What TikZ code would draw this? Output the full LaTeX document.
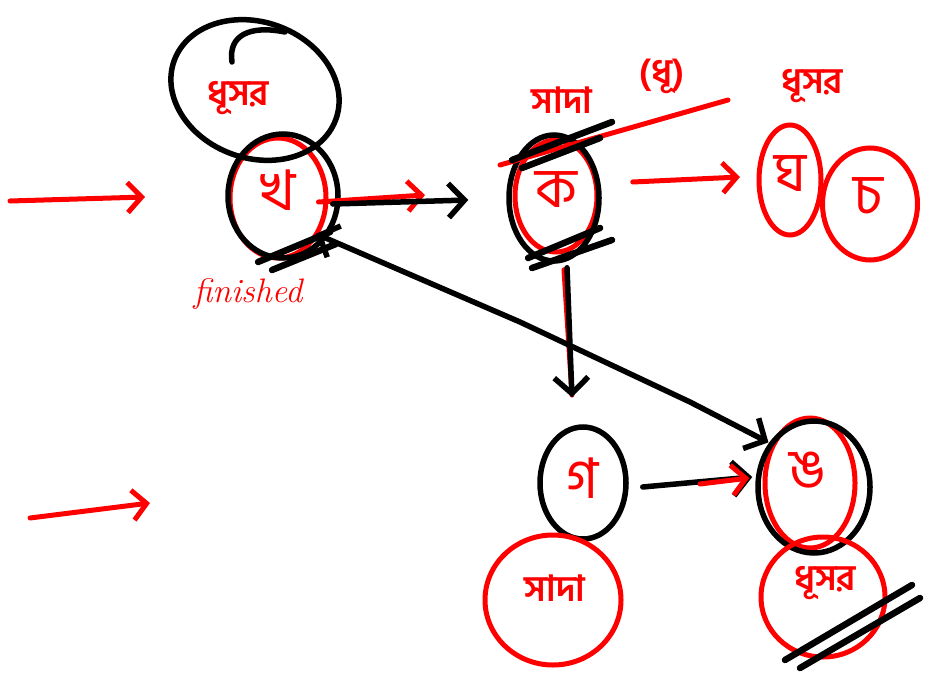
\documentclass[tikz,border=0pt]{standalone}
\usepackage{fontspec}
\newfontfamily\bn[Script=Bengali]{Hind Siliguri}
\usetikzlibrary{shapes.geometric,arrows.meta}
\begin{document}
\begin{tikzpicture}[x=1pt,y=-1pt,
  redc/.style={draw=red, line width=5pt, ellipse, inner sep=0pt},
  blkc/.style={draw=black, line width=5.5pt, ellipse, inner sep=0pt},
  rarr/.style={draw=red, line width=5pt, line cap=round, -{Straight Barb[length=14pt,width=30pt,line width=5pt]}},
  barr/.style={draw=black, line width=5.5pt, line cap=round, -{Straight Barb[length=16pt,width=34pt,line width=5.5pt]}},
  lbl/.style={text=red, font=\bn\bfseries\fontsize{36}{36}\selectfont},
  letter/.style={text=red, font=\bn\fontsize{56}{56}\selectfont},
  strike/.style={draw=black, line width=6.5pt, line cap=round},
  redline/.style={draw=red, line width=5pt, line cap=round},
]
\useasboundingbox (0,0) rectangle (936,677);

% incoming arrows
\coordinate (in1s) at (10,201);
\coordinate (in1e) at (145,197);
\coordinate (in2s) at (30,518);
\coordinate (in2e) at (150,503);
\draw[rarr] (in1s) -- (in1e);
\draw[rarr] (in2s) -- (in2e);

% node kha
\node[redc, minimum width=96pt, minimum height=120pt] (khr) at (278,198) {};
\node[letter] (kh) at (278,190) {খ};
\node[blkc, minimum width=110pt, minimum height=124pt] (khb) at (283,196) {};
\node[blkc, minimum width=172pt, minimum height=136pt, rotate=-20] (khlc) at (255,90) {};
\node[lbl] (khl) at (238,98) {ধূসর};
\draw[draw=black, line width=5.5pt, line cap=round] (232,62) .. controls (228,35) and (250,25) .. (285,32);
\node[text=red, font=\fontsize{34}{34}\selectfont\itshape] (khf) at (248,294) {finished};
\draw[strike] (258,262) -- (330,232);
\draw[strike] (272,270) -- (336,244);

% node ka
\node[redc, minimum width=82pt, minimum height=112pt] (kar) at (556,196) {};
\node[letter] (ka) at (556,190) {ক};
\node[blkc, minimum width=90pt, minimum height=126pt] (kab) at (554,198) {};
\node[lbl] (kal) at (562,100) {সাদা};
\node[lbl] (kal2) at (662,76) {(ধূ)};
\draw[redline] (500,165) -- (728,100);
\draw[strike] (512,160) -- (612,122);
\draw[strike] (522,168) -- (600,138);
\draw[strike] (528,258) -- (600,228);
\draw[strike] (532,268) -- (612,240);

% node gha + cha
\node[redc, minimum width=62pt, minimum height=110pt] (ghr) at (790,180) {};
\node[letter] (gh) at (790,174) {ঘ};
\node[redc, minimum width=95pt, minimum height=112pt] (char) at (870,204) {};
\node[letter] (ch) at (868,196) {চ};
\node[lbl] (ghl) at (812,86) {ধূসর};

% node ga
\node[blkc, minimum width=86pt, minimum height=112pt] (gab) at (583,483) {};
\node[letter] (ga) at (583,478) {গ};
\node[redc, minimum width=136pt, minimum height=130pt] (gal) at (553,600) {};
\node[lbl] (galt) at (555,588) {সাদা};

% node nga
\node[redc, minimum width=90pt, minimum height=130pt] (ngr) at (810,483) {};
\node[letter] (ng) at (808,470) {ঙ};
\node[blkc, minimum width=112pt, minimum height=132pt] (ngb) at (814,487) {};
\node[redc, minimum width=124pt, minimum height=120pt] (ngl) at (823,597) {};
\node[lbl] (nglt) at (825,583) {ধূসর};
\draw[strike] (785,660) -- (912,585);
\draw[strike] (800,668) -- (920,598);

% connectors
\coordinate (khka) at (425,195);
\draw[rarr] ([xshift=-10pt,yshift=-4pt]khr.east) -- (khka);
\draw[barr] ([xshift=-8pt,yshift=-8pt]khb.east) -- ([xshift=-38pt,yshift=-2pt]kab.west);
\coordinate (kagh) at (740,177);
\draw[rarr] ([xshift=31pt,yshift=16pt]kab.east) -- (kagh);
\draw[redline] ([xshift=10pt,yshift=-6pt]kab.south) -- (572,395);
\draw[barr] ([xshift=13pt,yshift=-4pt]kab.south) -- ([xshift=-11pt,yshift=27pt]gab.north);
\draw[barr] ([xshift=14pt,yshift=-4pt]gab.east) -- ([xshift=-3pt,yshift=10pt]ngb.west);
\draw[rarr] (700,484) -- ([xshift=-6pt,yshift=9pt]ngb.west);
\draw[draw=black, line width=5.5pt, line cap=round,
  {Straight Barb[length=16pt,width=34pt,line width=5.5pt]}-{Straight Barb[length=16pt,width=34pt,line width=5.5pt]}]
  ([xshift=-8pt,yshift=8pt]khb.south east) -- (520,322) -- (690,402) -- ([xshift=-4pt,yshift=-4pt]ngb.north west);
\end{tikzpicture}
\end{document}
